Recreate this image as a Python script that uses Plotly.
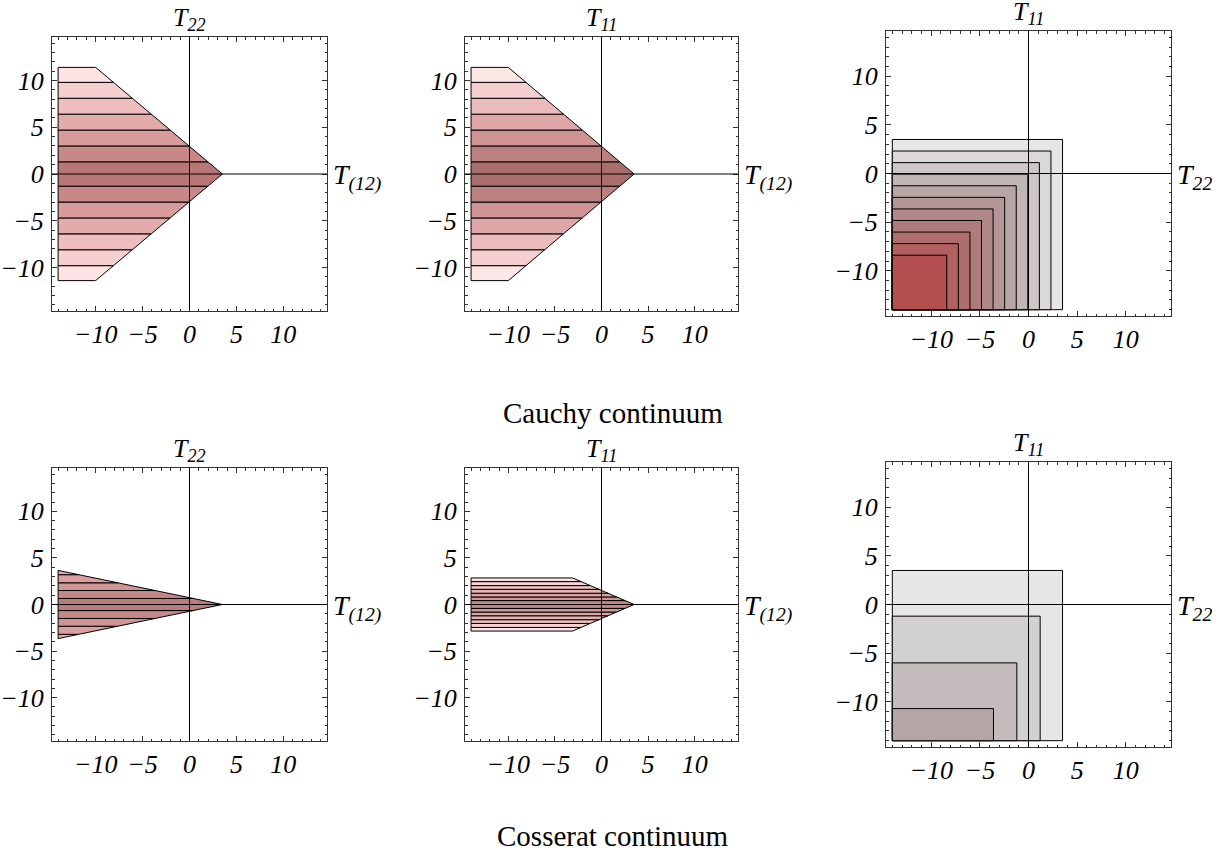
import plotly.graph_objects as go

# ---------------- data ----------------
axis_range = [-14.65, 14.65]
tick_vals = [-10, -5, 0, 5, 10]

# Cauchy, T22 vs T(12)
c1_region_x = [-14, -10, 3.5, -10, -14]
c1_region_y = [11.4, 11.4, 0, -11.4, -11.4]
c1_levels = [-11.4, -9.8, -8.1, -6.4, -4.7, -3.0, -1.3, 1.3, 3.0, 4.7, 6.4, 8.1, 9.8, 11.4]
c1_colors = ["#fce4e4", "#f6d0d0", "#efbdbd", "#e4abab", "#d89a9a", "#c98888", "#b87676"]

# Cauchy, T11 vs T(12)
c2_region_x = [-14, -10, 3.5, -10, -14]
c2_region_y = [11.4, 11.4, 0, -11.4, -11.4]
c2_levels = [-11.4, -9.8, -8.1, -6.4, -4.7, -3.0, -1.3, 1.3, 3.0, 4.7, 6.4, 8.1, 9.8, 11.4]
c2_colors = ["#fce6e6", "#f5cfcf", "#ebbaba", "#dea6a6", "#cf9393", "#bd8080", "#a96e6e"]

# Cauchy, T11 vs T22 (nested squares, upper-right corners)
c3_corner = [3.5, 2.31, 1.12, -0.07, -1.26, -2.45, -3.64, -4.83, -6.02, -7.21, -8.4]
c3_colors = ["#e6e6e6", "#dad8d8", "#cdc7c7", "#c0b6b6", "#b8a6a6", "#b39696",
             "#b08888", "#af7a7a", "#b06d6d", "#b26060", "#b44f4f"]
c3_origin = -14

# Cosserat, T22 vs T(12)
s1_region_x = [-14, 3.5, -14]
s1_region_y = [3.66, 0, -3.66]
s1_levels = [-3.66, -3.2, -2.33, -1.5, -0.65, 0.65, 1.5, 2.33, 3.2, 3.66]
s1_colors = ["#e8aaaa", "#dc9f9f", "#d09494", "#c48888", "#b87c7c"]

# Cosserat, T11 vs T(12)
s2_region_x = [-14, -3.1, 3.5, -3.1, -14]
s2_region_y = [2.85, 2.85, 0, -2.85, -2.85]
s2_levels = [-2.85, -2.46, -2.03, -1.63, -1.21, -0.81, -0.42, 0.42, 0.81, 1.21, 1.63, 2.03, 2.46, 2.85]
s2_colors = ["#fde4e4", "#f8d3d3", "#f0c3c3", "#e6b3b3", "#dba4a4", "#cf9696", "#c28888"]

# Cosserat, T11 vs T22 (nested rectangles, upper-right corners)
s3_corner_x = [3.5, 1.2, -1.2, -3.6]
s3_corner_y = [3.5, -1.2, -6.0, -10.7]
s3_colors = ["#e6e6e6", "#d3d0d2", "#c3bbbc", "#b4a6a7"]
s3_origin = -14

titles = ["T<sub>22</sub>", "T<sub>11</sub>", "T<sub>11</sub>",
          "T<sub>22</sub>", "T<sub>11</sub>", "T<sub>11</sub>"]
side_labels = ["T<sub>(12)</sub>", "T<sub>(12)</sub>", "T<sub>22</sub>",
               "T<sub>(12)</sub>", "T<sub>(12)</sub>", "T<sub>22</sub>"]
captions = ["Cauchy continuum", "Cosserat continuum"]

# ---------------- layout geometry (pixels) ----------------
W, H = 1226, 857
frames = [  # x0, x1, y0(top), y1(bottom)
    (52, 327, 37, 311),
    (465, 738, 37, 311),
    (886, 1171, 31, 316),
    (52, 327, 468, 741),
    (465, 738, 468, 741),
    (886, 1171, 462, 747),
]

FONT = "Liberation Serif"


def clip_half(pts, keep, ycut):
    out = []
    n = len(pts)
    for i in range(n):
        p, q = pts[i], pts[(i + 1) % n]
        pin, qin = keep(p[1]), keep(q[1])
        if pin:
            out.append(p)
        if pin != qin:
            t = (ycut - p[1]) / (q[1] - p[1])
            out.append((p[0] + t * (q[0] - p[0]), ycut))
    return out


def band_poly(xs, ys, lo, hi):
    pts = list(zip(xs, ys))
    pts = clip_half(pts, lambda y: y >= lo, lo)
    pts = clip_half(pts, lambda y: y <= hi, hi)
    if not pts:
        return [], []
    pts = pts + [pts[0]]
    return [p[0] for p in pts], [p[1] for p in pts]


def mirror_colors(half, nbands):
    return half + half[::-1][1:] if nbands % 2 == 1 else half + half[::-1]


fig = go.Figure()


def add_bands(idx, rx, ry, levels, half_colors):
    xa = "x" if idx == 1 else f"x{idx}"
    ya = "y" if idx == 1 else f"y{idx}"
    nb = len(levels) - 1
    cols = mirror_colors(half_colors, nb)
    for i in range(nb):
        bx, by = band_poly(rx, ry, levels[i], levels[i + 1])
        fig.add_trace(go.Scatter(x=bx, y=by, mode="lines", fill="toself",
                                 fillcolor=cols[i], line=dict(color="black", width=1),
                                 xaxis=xa, yaxis=ya, showlegend=False, hoverinfo="skip"))


def add_rects(idx, cx, cy, origin, colors):
    xa = "x" if idx == 1 else f"x{idx}"
    ya = "y" if idx == 1 else f"y{idx}"
    for i in range(len(cx)):
        fig.add_trace(go.Scatter(x=[origin, cx[i], cx[i], origin, origin],
                                 y=[origin, origin, cy[i], cy[i], origin],
                                 mode="lines", fill="toself", fillcolor=colors[i],
                                 line=dict(color="black", width=1),
                                 xaxis=xa, yaxis=ya, showlegend=False, hoverinfo="skip"))


add_bands(1, c1_region_x, c1_region_y, c1_levels, c1_colors)
add_bands(2, c2_region_x, c2_region_y, c2_levels, c2_colors)
add_rects(3, c3_corner, c3_corner, c3_origin, c3_colors)
add_bands(4, s1_region_x, s1_region_y, s1_levels, s1_colors)
add_bands(5, s2_region_x, s2_region_y, s2_levels, s2_colors)
add_rects(6, s3_corner_x, s3_corner_y, s3_origin, s3_colors)

tickfont = dict(family=FONT, size=26, color="black", style="italic")
layout = dict(width=W, height=H, margin=dict(l=0, r=0, t=0, b=0),
              paper_bgcolor="white", plot_bgcolor="white", showlegend=False)

for k, (x0, x1, y0, y1) in enumerate(frames, start=1):
    sx = "" if k == 1 else str(k)
    common = dict(range=axis_range, showgrid=False, zeroline=False,
                  showline=True, linecolor="#333", linewidth=1, mirror="allticks",
                  ticks="inside", ticklen=5, tickwidth=1, tickcolor="#333",
                  tickvals=tick_vals, tickfont=tickfont,
                  minor=dict(ticks="inside", ticklen=2.5, dtick=1, tick0=0,
                             tickcolor="#333", showgrid=False))
    layout[f"xaxis{sx}"] = dict(domain=[x0 / W, x1 / W], anchor=f"y{sx}", **common)
    layout[f"yaxis{sx}"] = dict(domain=[1 - y1 / H, 1 - y0 / H], anchor=f"x{sx}",
                                ticklabelstandoff=2, **common)

fig.update_layout(**layout)

shapes = []
annotations = []
for k in range(1, 7):
    sx = "" if k == 1 else str(k)
    shapes.append(dict(type="line", xref=f"x{sx}", yref=f"y{sx} domain", x0=0, x1=0,
                       y0=0, y1=1, line=dict(color="black", width=1), layer="above"))
    shapes.append(dict(type="line", xref=f"x{sx} domain", yref=f"y{sx}", x0=0, x1=1,
                       y0=0, y1=0, line=dict(color="black", width=1), layer="above"))
    annotations.append(dict(text=titles[k - 1], xref=f"x{sx}", yref=f"y{sx} domain",
                            x=0, y=1, xanchor="center", yanchor="bottom", yshift=0,
                            showarrow=False,
                            font=dict(family=FONT, size=26, color="black", style="italic")))
    annotations.append(dict(text=side_labels[k - 1], xref=f"x{sx} domain", yref=f"y{sx}",
                            x=1, y=0, xanchor="left", yanchor="middle", xshift=4, yshift=-3,
                            showarrow=False,
                            font=dict(family=FONT, size=28, color="black", style="italic")))

annotations.append(dict(text=captions[0], xref="paper", yref="paper", x=0.5, y=1 - 413 / H,
                        xanchor="center", yanchor="middle", showarrow=False,
                        font=dict(family=FONT, size=29, color="black")))
annotations.append(dict(text=captions[1], xref="paper", yref="paper", x=0.5, y=1 - 836 / H,
                        xanchor="center", yanchor="middle", showarrow=False,
                        font=dict(family=FONT, size=29, color="black")))

fig.update_layout(shapes=shapes, annotations=annotations)
fig.write_html("out.html", config={"displayModeBar": False},
               post_script="document.body.style.margin='0';")
